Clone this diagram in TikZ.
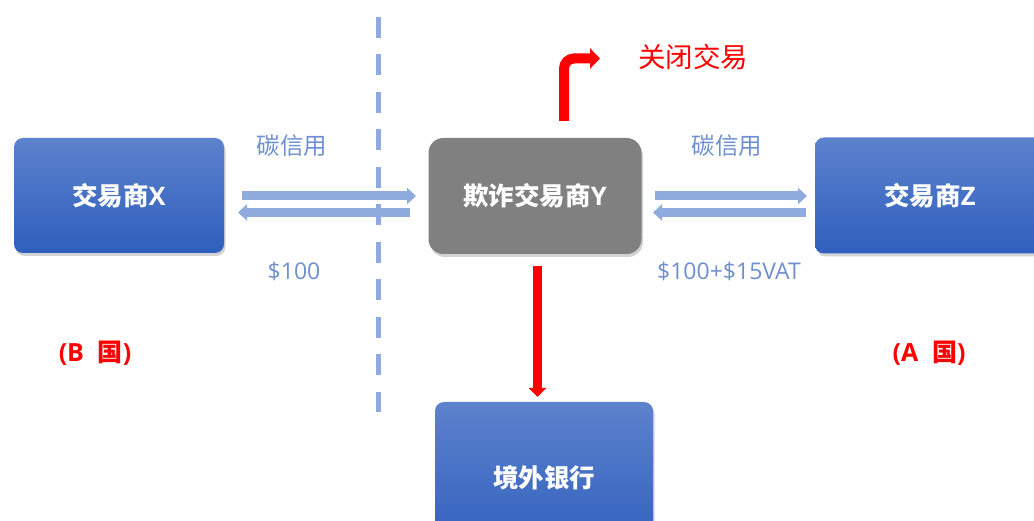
\documentclass[tikz,border=0pt]{standalone}
\usepackage{fontspec}
\setmainfont{Open Sans}
\newfontfamily\cjkfont{Noto Sans CJK SC}
\newcommand{\zh}[1]{{\cjkfont #1}}
\usetikzlibrary{arrows.meta,shadows}
\definecolor{lblue}{HTML}{8FAADC}
\definecolor{tblue}{HTML}{6E8FD0}
\definecolor{btop}{HTML}{5D82CD}
\definecolor{bbot}{HTML}{2F5FBD}
\definecolor{gbox}{HTML}{808080}
\begin{document}
\begin{tikzpicture}[x=1pt,y=-1pt,
  boxbase/.style={rounded corners=9pt, draw=none, text=white, inner sep=0pt,
    font=\fontsize{25.5}{30}\selectfont\bfseries,
    drop shadow={opacity=0.35, shadow xshift=1.5pt, shadow yshift=-3pt}},
  bluebox/.style={boxbase, top color=btop, bottom color=bbot},
  graybox/.style={boxbase, rounded corners=15pt, fill=gbox},
  lab/.style={text=tblue, font=\fontsize{23}{27}\selectfont, inner sep=0pt},
  country/.style={text=red, font=\fontsize{25}{29}\selectfont\bfseries, inner sep=0pt},
  flow/.style={draw=lblue, line width=9pt, -{Triangle[length=9pt,width=16pt]}},
  redarrow/.style={draw=red, line width=9pt, -{Triangle[length=9pt,width=17pt]}},
]
\useasboundingbox (0,0) rectangle (1034,521);

\node[bluebox, minimum width=210pt, minimum height=115pt] (X) at (119,195.5) {\zh{交易商}X};
\node[graybox, minimum width=213pt, minimum height=116pt] (Y) at (535,196) {\zh{欺诈交易商}Y};
\node[bluebox, minimum width=230pt, minimum height=116pt] (Z) at (930,195.5) {\zh{交易商}Z};
\node[bluebox, minimum width=218pt, minimum height=152pt] (bank) at (544,478) {\zh{境外银行}};

\node[lab, font=\fontsize{23.5}{27}\selectfont] (c1) at (292,146) {\zh{碳信用}};
\node[lab, font=\fontsize{23.5}{27}\selectfont] (c2) at (727,146) {\zh{碳信用}};
\node[lab] (m1) at (294,271) {\$100};
\node[lab] (m2) at (729,271) {\$100+\$15VAT};

\node[country] (B) at (95,353) {(B\hspace{0.55em}\zh{国})};
\node[country] (A) at (929,353) {(A\hspace{0.55em}\zh{国})};

\node[text=red, font=\fontsize{27.5}{32}\selectfont, inner sep=0pt] (close) at (693,57) {\zh{关闭交易}};

% left flows
\coordinate (x1) at (242,196);
\coordinate (y1) at (416,196);
\coordinate (y2) at (410,212.5);
\coordinate (x2) at (238,212.5);
\draw[flow] (x1) -- (y1);
\draw[flow] (y2) -- (x2);
% right flows
\coordinate (y3) at (655,196);
\coordinate (z1) at (807,196);
\coordinate (z2) at (806,212.5);
\coordinate (y4) at (653,212.5);
\draw[flow] (y3) -- (z1);
\draw[flow] (z2) -- (y4);

% border dashed line
\coordinate (d1) at (378,17);
\coordinate (d2) at (378,412);
\draw[lblue, line width=5pt, dash pattern=on 21pt off 16.5pt] (d1) -- (d2);

% red arrows
\coordinate (r0) at (537.5,266);
\coordinate (r1) at (537.5,397);
\draw[redarrow] (r0) -- (r1);
\coordinate (b0) at (564,121);
\coordinate (b1) at (600,58.5);
\draw[redarrow, line width=10pt, rounded corners=10pt, -{Triangle[length=10pt,width=20pt]}] (b0) |- (b1);
\end{tikzpicture}
\end{document}
